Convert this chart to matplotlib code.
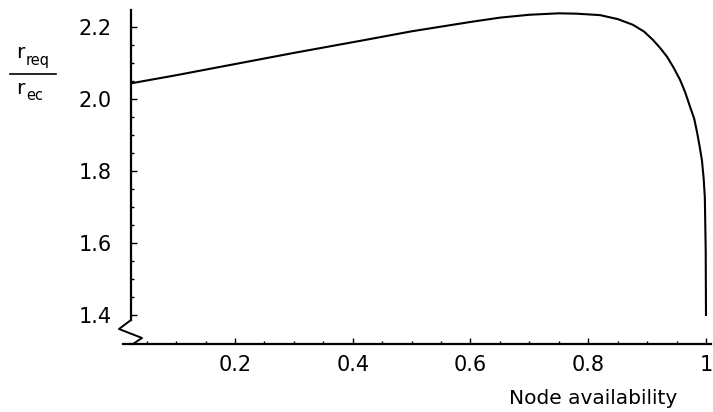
import numpy as np
import matplotlib
matplotlib.use('Agg')
import matplotlib.pyplot as plt
from matplotlib.ticker import FixedLocator
from matplotlib.lines import Line2D

# values
availability = [0.025, 0.1, 0.2, 0.3, 0.421, 0.5, 0.6, 0.65, 0.7, 0.75,
                0.78, 0.82, 0.85, 0.876, 0.895, 0.91, 0.922, 0.934, 0.945,
                0.956, 0.965, 0.973, 0.98, 0.985, 0.989, 0.993, 0.996,
                0.998, 0.9995, 1.0]
ratio = [2.044, 2.066, 2.097, 2.128, 2.164, 2.188, 2.214, 2.226, 2.234, 2.238,
         2.237, 2.233, 2.222, 2.206, 2.187, 2.164, 2.142, 2.117, 2.087,
         2.053, 2.017, 1.978, 1.945, 1.906, 1.87, 1.831, 1.78,
         1.728, 1.58, 1.40]

x_ticks = [0.2, 0.4, 0.6, 0.8, 1.0]
x_ticklabels = ['0.2', '0.4', '0.6', '0.8', '1']
y_ticks = [1.4, 1.6, 1.8, 2.0, 2.2]
y_ticklabels = ['1.4', '1.6', '1.8', '2.0', '2.2']

plt.rcParams['font.family'] = ['DejaVu Sans']

W, H = 713, 412
fig = plt.figure(figsize=(W / 100, H / 100), dpi=100)
ax = fig.add_axes([131 / W, (H - 344) / H, 580 / W, 334 / H])

ax.plot(availability, ratio, color='black', linewidth=1.5,
        solid_joinstyle='round')

ax.set_xlim(0.02335, 1.0085)
ax.set_ylim(1.3194, 2.2472)

ax.set_xticks(x_ticks)
ax.set_xticklabels(x_ticklabels)
ax.set_yticks(y_ticks)
ax.set_yticklabels(y_ticklabels)
ax.xaxis.set_minor_locator(FixedLocator(np.arange(0.05, 1.001, 0.05)))
ax.yaxis.set_minor_locator(FixedLocator(np.arange(1.4, 2.246, 0.05)))

ax.tick_params(which='both', direction='in', width=1.0, colors='black')
ax.tick_params(which='major', length=4.5)
ax.tick_params(which='minor', length=2.5)
ax.tick_params(axis='x', which='major', pad=8, labelsize=15)
ax.tick_params(axis='y', which='major', pad=14, labelsize=15)

for side in ['top', 'right']:
    ax.spines[side].set_visible(False)
for side in ['left', 'bottom']:
    ax.spines[side].set_linewidth(1.6)

# axis break: left spine stops short, then a zigzag down to the x axis
y0, y1 = ax.get_ylim()
ax.spines['left'].set_bounds(y0 + 0.0719 * (y1 - y0), y1)
ax.plot([0.0, -0.0207, 0.019, 0.0034], [0.0719, 0.0449, 0.018, 0.0],
        transform=ax.transAxes, color='black', linewidth=1.4, clip_on=False)
ax.plot([-0.0138, 0.0], [0.0, 0.0], transform=ax.transAxes,
        color='black', linewidth=1.6, clip_on=False)

# x label
fig.text(593 / W, 1 - 404 / H, 'Node availability', ha='center',
         va='baseline', fontsize=14.5)

# y label as a stacked fraction r_req / r_ec
fig.text(16 / W, 1 - 58 / H, 'r', ha='left', va='baseline', fontsize=14.5)
fig.text(26 / W, 1 - 65 / H, 'req', ha='left', va='baseline', fontsize=10.5)
fig.add_artist(Line2D([10 / W, 56 / W], [1 - 74 / H, 1 - 74 / H],
                      transform=fig.transFigure, color='black', linewidth=1.2))
fig.text(16 / W, 1 - 94 / H, 'r', ha='left', va='baseline', fontsize=14.5)
fig.text(26 / W, 1 - 100 / H, 'ec', ha='left', va='baseline', fontsize=10.5)

fig.savefig('out.png', dpi=100)
